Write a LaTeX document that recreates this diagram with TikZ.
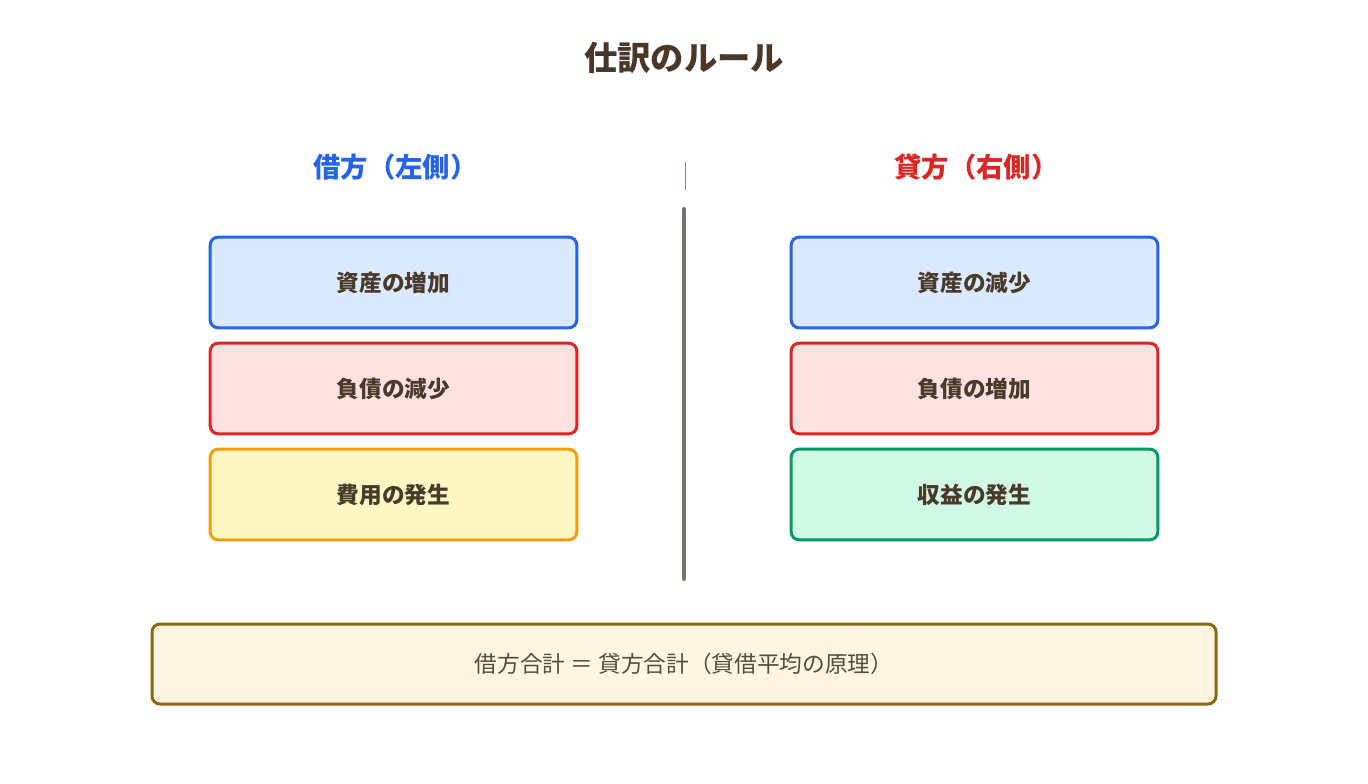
\documentclass[tikz,border=0pt]{standalone}
\usepackage{fontspec}
\setmainfont{Noto Sans CJK JP}
\definecolor{ttl}{HTML}{4A3728}
\definecolor{txt}{HTML}{4A3A2A}
\definecolor{bstroke}{HTML}{2563EB}
\definecolor{bfill}{HTML}{DBEAFE}
\definecolor{rstroke}{HTML}{DC2626}
\definecolor{rfill}{HTML}{FEE2E2}
\definecolor{ystroke}{HTML}{F59E0B}
\definecolor{yfill}{HTML}{FEF7C3}
\definecolor{gstroke}{HTML}{059669}
\definecolor{gfill}{HTML}{D1FAE5}
\definecolor{divc}{HTML}{78716C}
\definecolor{thinc}{HTML}{A08070}
\definecolor{sumfill}{HTML}{FDF6E3}
\definecolor{sumstroke}{HTML}{8B6914}
\definecolor{sumtxt}{HTML}{5A4A3A}
\tikzset{
  entry/.style={draw=#1stroke, fill=#1fill, line width=2.25pt, rounded corners=6pt,
    minimum width=275pt, minimum height=68pt, text=txt, font=\bfseries\fontsize{17}{20}\selectfont},
}
\begin{document}
\begin{tikzpicture}[x=0.75pt,y=-0.75pt]
\useasboundingbox (0,0) rectangle (1368,783);
\fill[white] (0,0) rectangle (1368,783);
\node[text=ttl, font=\bfseries\fontsize{25}{29}\selectfont] (title) at (684,58) {仕訳のルール};
\node[text=bstroke, font=\bfseries\fontsize{20.5}{24}\selectfont] (lh) at (395.5,167) {借方（左側）};
\node[text=rstroke, font=\bfseries\fontsize{20.5}{24}\selectfont] (rh) at (976.5,167) {貸方（右側）};
\coordinate (t1) at (685,162);
\coordinate (t2) at (685,190);
\draw[thinc, line width=0.75pt] (t1) -- (t2);
\coordinate (d1) at (684,209);
\coordinate (d2) at (684,579);
\draw[divc, line width=3pt, line cap=round] (d1) -- (d2);
\node[entry=b] (l1) at (393.5,282.5) {資産の増加};
\node[entry=r] (l2) at (393.5,388.5) {負債の減少};
\node[entry=y] (l3) at (393.5,494.5) {費用の発生};
\node[entry=b] (r1) at (974.5,282.5) {資産の減少};
\node[entry=r] (r2) at (974.5,388.5) {負債の増加};
\node[entry=g] (r3) at (974.5,494.5) {収益の発生};
\node[draw=sumstroke, fill=sumfill, line width=2.25pt, rounded corners=6pt,
  minimum width=798pt, minimum height=60pt, text=sumtxt, font=\fontsize{17}{20}\selectfont]
  (sum) at (684,664) {借方合計 ＝ 貸方合計（貸借平均の原理）};
\end{tikzpicture}
\end{document}
